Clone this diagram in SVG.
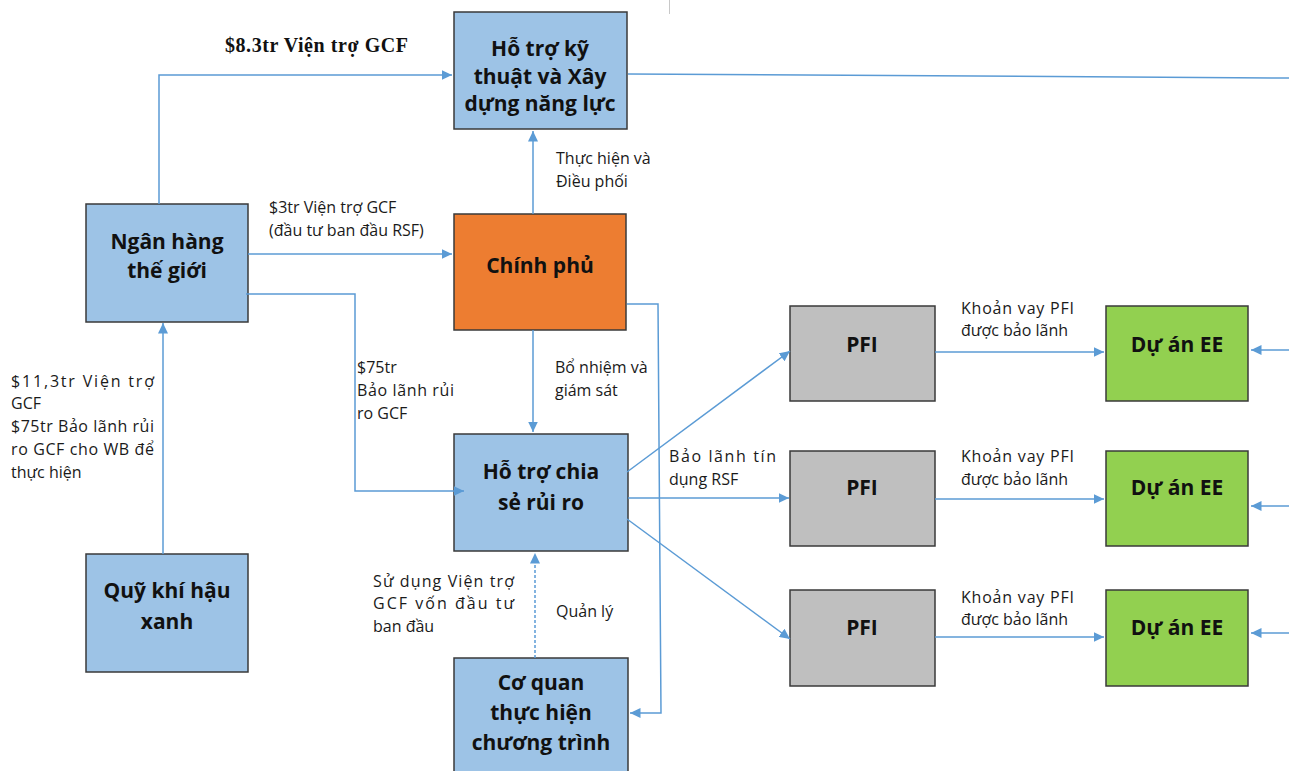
<svg xmlns="http://www.w3.org/2000/svg" width="1289" height="771" viewBox="0 0 1289 771">
<defs>
<marker id="ah" markerUnits="userSpaceOnUse" markerWidth="11" markerHeight="10" refX="10.5" refY="5" orient="auto">
<path d="M0,0 L10.5,5 L0,10 z" fill="#5B9BD5"/>
</marker>
<style>
.box{stroke:#3a3a3a;stroke-width:1.5}
.blue{fill:#9DC3E6}
.orange{fill:#ED7D31}
.gray{fill:#BFBFBF}
.green{fill:#92D050}
.nt{font-family:"Open Sans","Liberation Sans",sans-serif;font-weight:bold;font-size:21px;fill:#111;text-anchor:middle}
.lb{font-family:"Open Sans","Liberation Sans",sans-serif;font-size:16px;fill:#1a1a1a}
.c{fill:none;stroke:#5B9BD5;stroke-width:1.5}
.ca{fill:none;stroke:#5B9BD5;stroke-width:1.5;marker-end:url(#ah)}
</style>
</defs>
<rect width="1289" height="771" fill="#ffffff"/>
<line x1="669.5" y1="0" x2="669.5" y2="14" stroke="#c8c8c8" stroke-width="1"/>

<g id="labels">
<text x="225" y="52" font-family="'Liberation Serif',serif" font-weight="bold" font-size="20" fill="#111" textLength="183">$8.3tr Viện trợ GCF</text>
<text class="lb" x="556" y="164">Thực hiện và</text>
<text class="lb" x="556" y="187">Điều phối</text>
<text class="lb" x="269" y="213">$3tr Viện trợ GCF</text>
<text class="lb" x="269" y="236">(đầu tư ban đầu RSF)</text>
<text class="lb" x="357" y="373">$75tr</text>
<text class="lb" x="357" y="396" textLength="97">Bảo lãnh rủi</text>
<text class="lb" x="357" y="419">ro GCF</text>
<text class="lb" x="555" y="373">Bổ nhiệm và</text>
<text class="lb" x="555" y="396">giám sát</text>
<text class="lb" x="11" y="387" textLength="143">$11,3tr Viện trợ</text>
<text class="lb" x="11" y="409">GCF</text>
<text class="lb" x="11" y="432" textLength="143">$75tr Bảo lãnh rủi</text>
<text class="lb" x="11" y="455" textLength="143">ro GCF cho WB để</text>
<text class="lb" x="11" y="478">thực hiện</text>
<text class="lb" x="373" y="587" textLength="141">Sử dụng Viện trợ</text>
<text class="lb" x="373" y="609" textLength="141">GCF vốn đầu tư</text>
<text class="lb" x="373" y="632">ban đầu</text>
<text class="lb" x="556" y="617">Quản lý</text>
<text class="lb" x="669" y="462" textLength="107">Bảo lãnh tín</text>
<text class="lb" x="669" y="485">dụng RSF</text>
<text class="lb" x="961" y="314" textLength="113">Khoản vay PFI</text>
<text class="lb" x="961" y="336">được bảo lãnh</text>
<text class="lb" x="961" y="462" textLength="113">Khoản vay PFI</text>
<text class="lb" x="961" y="485">được bảo lãnh</text>
<text class="lb" x="961" y="603" textLength="113">Khoản vay PFI</text>
<text class="lb" x="961" y="625">được bảo lãnh</text>
</g>

<g id="node-htkt">
<rect class="box blue" x="454" y="12" width="173" height="117"/>
<text class="nt" x="540" y="56" font-size="18.5">Hỗ trợ kỹ</text>
<text class="nt" x="540" y="84" font-size="18.5">thuật và Xây</text>
<text class="nt" x="540" y="111" font-size="18.5">dựng năng lực</text>
</g>
<g id="node-wb">
<rect class="box blue" x="86" y="204" width="162" height="118"/>
<text class="nt" x="167" y="249">Ngân hàng</text>
<text class="nt" x="167" y="278">thế giới</text>
</g>
<g id="node-cp">
<rect class="box orange" x="454" y="214" width="172" height="116"/>
<text class="nt" x="540" y="273">Chính phủ</text>
</g>
<g id="node-htcs">
<rect class="box blue" x="454" y="434" width="174" height="117"/>
<text class="nt" x="541" y="479">Hỗ trợ chia</text>
<text class="nt" x="541" y="510">sẻ rủi ro</text>
</g>
<g id="node-quy">
<rect class="box blue" x="86" y="554" width="162" height="118"/>
<text class="nt" x="167" y="598">Quỹ khí hậu</text>
<text class="nt" x="167" y="629">xanh</text>
</g>
<g id="node-cq">
<rect class="box blue" x="454" y="658" width="174" height="125"/>
<text class="nt" x="541" y="690">Cơ quan</text>
<text class="nt" x="541" y="720">thực hiện</text>
<text class="nt" x="541" y="750">chương trình</text>
</g>
<g id="node-pfi1">
<rect class="box gray" x="790" y="306" width="145" height="95"/>
<text class="nt" x="862" y="352">PFI</text>
</g>
<g id="node-pfi2">
<rect class="box gray" x="790" y="451" width="145" height="95"/>
<text class="nt" x="862" y="495">PFI</text>
</g>
<g id="node-pfi3">
<rect class="box gray" x="790" y="590" width="145" height="96"/>
<text class="nt" x="862" y="635">PFI</text>
</g>
<g id="node-ee1">
<rect class="box green" x="1106" y="306" width="142" height="95"/>
<text class="nt" x="1177" y="352">Dự án EE</text>
</g>
<g id="node-ee2">
<rect class="box green" x="1106" y="451" width="142" height="95"/>
<text class="nt" x="1177" y="495">Dự án EE</text>
</g>
<g id="node-ee3">
<rect class="box green" x="1106" y="590" width="142" height="96"/>
<text class="nt" x="1177" y="635">Dự án EE</text>
</g>

<g id="connectors">
<polyline class="ca" points="159,204 159,75 452,75"/>
<line class="c" x1="628" y1="74" x2="1289" y2="78"/>
<line class="ca" x1="533" y1="214" x2="533" y2="131"/>
<line class="ca" x1="248" y1="254" x2="452" y2="254"/>
<polyline class="ca" points="246,294 355,294 355,491 464,491"/>
<line class="ca" x1="163" y1="554" x2="163" y2="323"/>
<line class="ca" x1="533" y1="330" x2="533" y2="432"/>
<polyline class="ca" points="627,304 658,304 661,713 630,713"/>
<line class="ca" x1="535" y1="658" x2="535" y2="553" stroke-dasharray="3,2"/>
<line class="ca" x1="627" y1="472" x2="790" y2="351"/>
<line class="ca" x1="628" y1="498" x2="789" y2="498"/>
<line class="ca" x1="627" y1="519" x2="790" y2="639"/>
<line class="ca" x1="935" y1="352" x2="1104" y2="352"/>
<line class="ca" x1="935" y1="499" x2="1104" y2="499"/>
<line class="ca" x1="935" y1="637" x2="1104" y2="637"/>
<line class="ca" x1="1289" y1="350" x2="1251" y2="350"/>
<line class="ca" x1="1289" y1="506" x2="1251" y2="506"/>
<line class="ca" x1="1289" y1="633" x2="1251" y2="633"/>
</g>
</svg>
